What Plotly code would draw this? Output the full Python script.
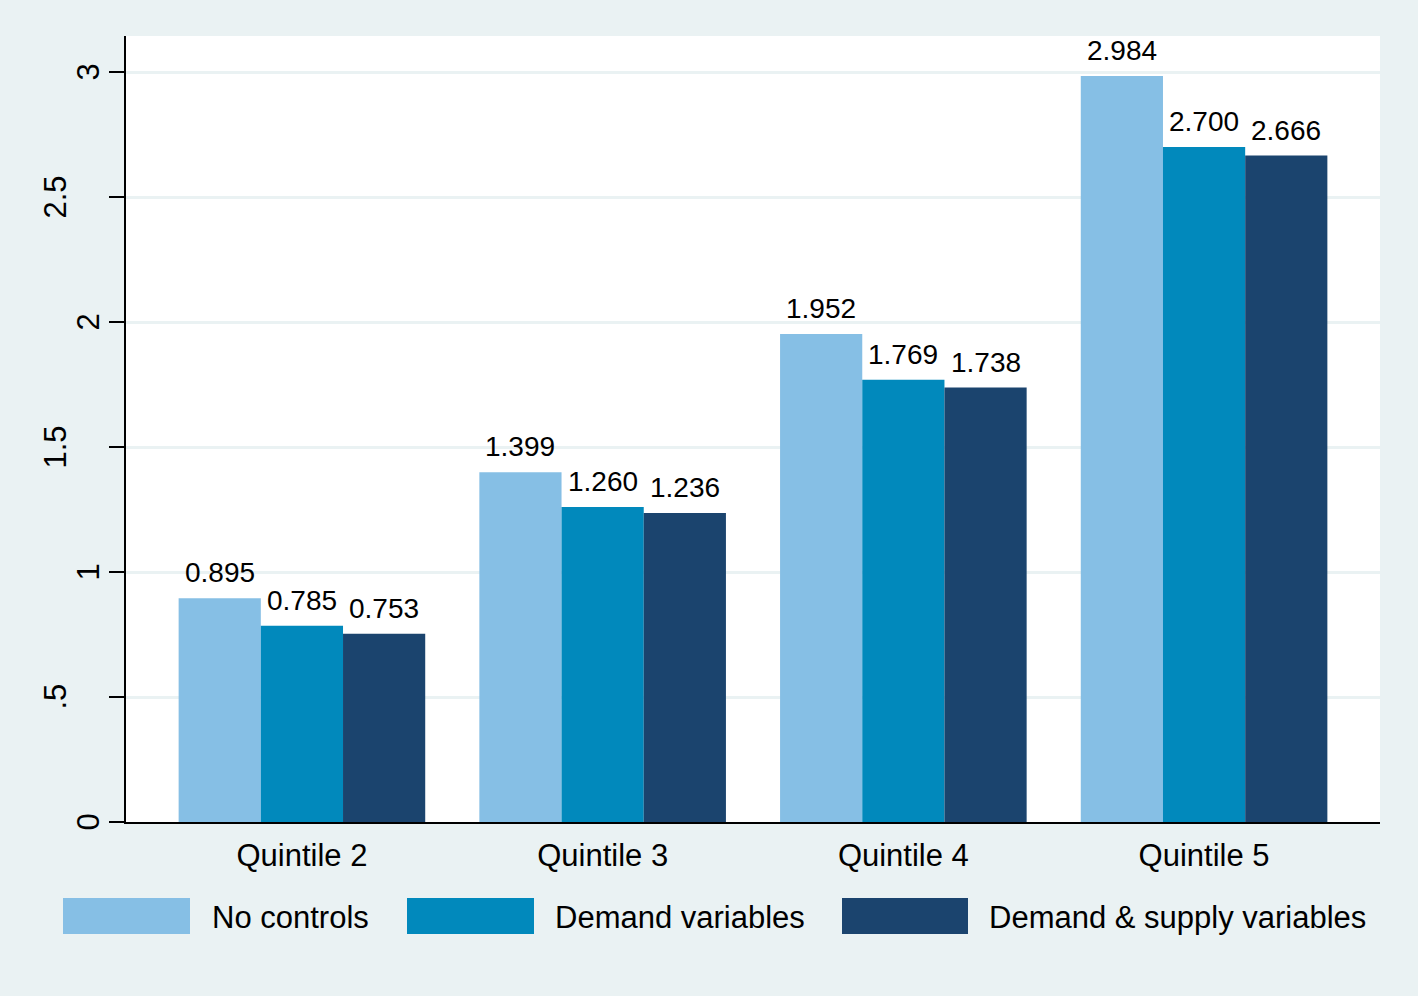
import plotly.graph_objects as go

categories = ["Quintile 2", "Quintile 3", "Quintile 4", "Quintile 5"]
series_names = ["No controls", "Demand variables", "Demand & supply variables"]
no_controls = [0.895, 1.399, 1.952, 2.984]
demand = [0.785, 1.260, 1.769, 2.700]
demand_supply = [0.753, 1.236, 1.738, 2.666]
y_tickvals = [0, 0.5, 1, 1.5, 2, 2.5, 3]
y_ticktext = ["0", ".5", "1", "1.5", "2", "2.5", "3"]

colors = ["#86BFE5", "#0189BC", "#1B446E"]
series = [no_controls, demand, demand_supply]
FONT = "Liberation Sans, Arial, Helvetica, sans-serif"
BG = "#EAF2F3"

W, H = 1418, 996
L, R, T, B = 126, 38, 36, 174
pw, ph = W - L - R, H - T - B
XRANGE = [-0.585, 3.585]
BARGAP = 0.18

fig = go.Figure()
for name, vals, c in zip(series_names, series, colors):
    fig.add_trace(go.Bar(
        x=categories, y=vals, name=name,
        marker=dict(color=c, line=dict(width=0)),
        hovertemplate="%{x}<br>" + name + ": %{y:.3f}<extra></extra>",
        showlegend=False,
    ))

def px_x(px):
    return (px - L) / pw

def px_y(py):
    return (H - B - py) / ph

annotations = []
shapes = []

# value labels above each bar, anchored to (category, value) on the axes;
# horizontal offset = bar slot width derived from axis range and bargap
px_per_unit = pw / (XRANGE[1] - XRANGE[0])
bar_px = px_per_unit * (1 - BARGAP) / len(series)
for i, vals in enumerate(series):
    for cat, v in zip(categories, vals):
        annotations.append(dict(xref="x", yref="y", x=cat, y=v, text=f"{v:.3f}",
                                showarrow=False, xanchor="center", yanchor="bottom",
                                xshift=(i - (len(series) - 1) / 2) * bar_px, yshift=8,
                                font=dict(size=28, color="black", family=FONT)))

legend_items = [(63, 190, 210), (407, 534, 553), (842, 968, 987)]
for (x0, x1, tx), name, c in zip(legend_items, series_names, colors):
    shapes.append(dict(type="rect", xref="paper", yref="paper",
                       x0=px_x(x0), x1=px_x(x1), y0=px_y(934), y1=px_y(898),
                       fillcolor=c, line=dict(width=0)))
    annotations.append(dict(xref="paper", yref="paper", x=px_x(tx), y=px_y(917),
                            text=name, showarrow=False, xanchor="left", yanchor="middle",
                            font=dict(size=31, color="black", family=FONT)))

# y tick labels (rotated), placed at their tick values
for v, t in zip(y_tickvals, y_ticktext):
    cx = 87.5 if len(t) == 1 else 54.5
    annotations.append(dict(xref="paper", yref="y", x=px_x(cx), y=v, text=t,
                            showarrow=False, textangle=-90,
                            xanchor="center", yanchor="middle",
                            font=dict(size=31, color="black", family=FONT)))

fig.update_layout(
    width=W, height=H,
    margin=dict(l=L, r=R, t=T, b=B, pad=0),
    paper_bgcolor=BG, plot_bgcolor="white",
    barmode="group", bargap=BARGAP, bargroupgap=0,
    font=dict(family=FONT, color="black"),
    shapes=shapes, annotations=annotations,
    xaxis=dict(showgrid=False, showline=True, linecolor="black", linewidth=2,
               ticks="", tickfont=dict(size=31, family=FONT),
               ticklabelstandoff=5, range=XRANGE, zeroline=False),
    yaxis=dict(range=[0, 3.144], tickvals=y_tickvals, showticklabels=False,
               showgrid=True, gridcolor=BG, gridwidth=3,
               showline=True, linecolor="black", linewidth=2,
               ticks="outside", ticklen=15, tickwidth=2, tickcolor="black",
               zeroline=False),
)

fig.write_html("out.html", config={"displayModeBar": False},
               post_script="document.body.style.margin='0';")
